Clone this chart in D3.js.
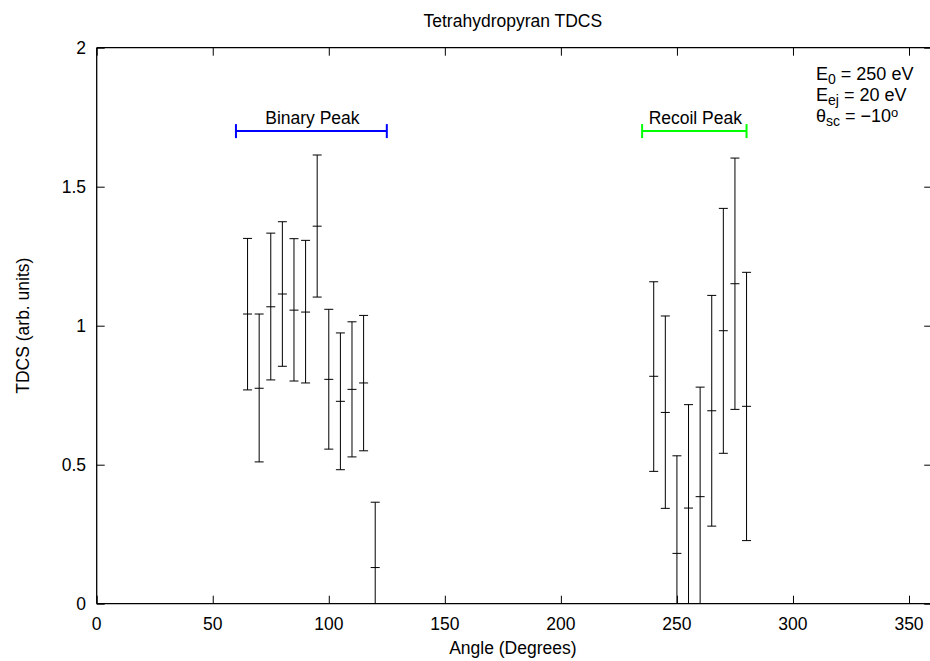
<!DOCTYPE html>
<html>
<head>
<meta charset="utf-8">
<script src="https://cdn.jsdelivr.net/npm/d3@7"></script>
<style>
  html, body { margin: 0; padding: 0; background: #fff; }
  svg { display: block; }
  text { font-family: "Liberation Sans", Arial, Helvetica, sans-serif; fill: #000; }
</style>
</head>
<body>
<svg id="chart" width="930" height="661"></svg>
<script>
// ---- data ----
const binaryAngle = [65, 70, 75, 80, 85, 90, 95, 100, 105, 110, 115, 120];
const binaryValue = [1.042, 0.775, 1.068, 1.114, 1.056, 1.049, 1.358, 0.807, 0.728, 0.771, 0.794, 0.130];
const binaryLow   = [0.769, 0.510, 0.805, 0.854, 0.801, 0.794, 1.103, 0.556, 0.482, 0.528, 0.550, -0.105];
const binaryHigh  = [1.314, 1.042, 1.333, 1.374, 1.313, 1.307, 1.614, 1.059, 0.974, 1.014, 1.037, 0.365];

const recoilAngle = [240, 245, 250, 255, 260, 265, 270, 275, 280];
const recoilValue = [0.818, 0.688, 0.181, 0.344, 0.385, 0.694, 0.982, 1.151, 0.710];
const recoilLow   = [0.476, 0.343, -0.170, -0.028, -0.009, 0.279, 0.541, 0.699, 0.227];
const recoilHigh  = [1.158, 1.035, 0.532, 0.716, 0.779, 1.109, 1.422, 1.603, 1.192];

const peakNames  = ["Binary Peak", "Recoil Peak"];
const peakStart  = [60, 235];
const peakEnd    = [125, 280];
const peakLevel  = [1.7, 1.7];
const peakColors = ["#0000ff", "#00ff00"];

const xTicks = [0, 50, 100, 150, 200, 250, 300, 350];
const yTicks = [0, 0.5, 1, 1.5, 2];
const yTickLabels = ["0", "0.5", "1", "1.5", "2"];

const titleText = "Tetrahydropyran TDCS";
const xLabel = "Angle (Degrees)";
const yLabel = "TDCS (arb. units)";

// ---- layout ----
const svg = d3.select("#chart");
const pLeft = 96.7, pTop = 47.7, pBottom = 603.7;
const x = d3.scaleLinear().domain([0, 360]).range([pLeft, pLeft + 360 * 2.3209]);
const y = d3.scaleLinear().domain([0, 2]).range([pBottom, pTop]);
const pRight = x(360);
const fs = 17.5;

svg.append("defs").append("clipPath").attr("id", "plotclip")
  .append("rect").attr("x", pLeft).attr("y", pTop).attr("width", pRight - pLeft).attr("height", pBottom - pTop);

// title
svg.append("text").attr("x", (pLeft + 929) / 2).attr("y", 27).attr("text-anchor", "middle")
  .style("font-size", fs + "px").text(titleText);

// frame
const tickLen = 8;
const axG = svg.append("g").attr("stroke", "#000").attr("stroke-width", 1.3);
axG.append("line").attr("x1", pLeft).attr("x2", pRight).attr("y1", pBottom).attr("y2", pBottom);
axG.append("line").attr("x1", pLeft).attr("x2", pRight).attr("y1", pTop).attr("y2", pTop);
axG.append("line").attr("x1", pLeft).attr("x2", pLeft).attr("y1", pTop).attr("y2", pBottom);
axG.append("line").attr("x1", pRight).attr("x2", pRight).attr("y1", pTop).attr("y2", pBottom);

// inward, mirrored ticks via d3 axes
const xb = svg.append("g").attr("transform", `translate(0,${pBottom})`)
  .call(d3.axisTop(x).tickValues(xTicks).tickSize(tickLen).tickFormat(""));
const xt = svg.append("g").attr("transform", `translate(0,${pTop})`)
  .call(d3.axisBottom(x).tickValues(xTicks).tickSize(tickLen).tickFormat(""));
const yl = svg.append("g").attr("transform", `translate(${pLeft},0)`)
  .call(d3.axisRight(y).tickValues(yTicks).tickSize(tickLen).tickFormat(""));
const yr = svg.append("g").attr("transform", `translate(${pRight},0)`)
  .call(d3.axisLeft(y).tickValues(yTicks).tickSize(tickLen).tickFormat(""));
[xb, xt, yl, yr].forEach(g => {
  g.select(".domain").remove();
  g.selectAll(".tick line").attr("stroke", "#000").attr("stroke-width", 1);
});

// tick labels
svg.append("g").selectAll("text").data(xTicks).join("text")
  .attr("x", d => x(d)).attr("y", 630).attr("text-anchor", "middle")
  .style("font-size", fs + "px").text(d => d);
svg.append("g").selectAll("text").data(yTicks).join("text")
  .attr("x", 86).attr("y", d => y(d) + 6).attr("text-anchor", "end")
  .style("font-size", fs + "px").text((d, i) => yTickLabels[i]);

// axis labels
svg.append("text").attr("x", (pLeft + 929) / 2).attr("y", 654).attr("text-anchor", "middle")
  .style("font-size", fs + "px").text(xLabel);
svg.append("text").attr("transform", `translate(29,${(pTop + pBottom) / 2}) rotate(-90)`)
  .attr("text-anchor", "middle").style("font-size", fs + "px").text(yLabel);

// error bars
const plot = svg.append("g").attr("clip-path", "url(#plotclip)");
function drawSeries(ang, val, lo, hi) {
  const capW = 4.5;
  const g = plot.append("g").attr("stroke", "#000").attr("stroke-width", 1);
  ang.forEach((a, i) => {
    const cx = x(a);
    g.append("line").attr("x1", cx).attr("x2", cx).attr("y1", y(lo[i])).attr("y2", y(hi[i]));
    g.append("line").attr("x1", cx - capW).attr("x2", cx + capW).attr("y1", y(lo[i])).attr("y2", y(lo[i]));
    g.append("line").attr("x1", cx - capW).attr("x2", cx + capW).attr("y1", y(hi[i])).attr("y2", y(hi[i]));
    g.append("line").attr("x1", cx - capW).attr("x2", cx + capW).attr("y1", y(val[i])).attr("y2", y(val[i]));
  });
}
drawSeries(binaryAngle, binaryValue, binaryLow, binaryHigh);
drawSeries(recoilAngle, recoilValue, recoilLow, recoilHigh);

// peak range markers
peakNames.forEach((name, i) => {
  const g = svg.append("g").attr("stroke", peakColors[i]).attr("stroke-width", 2);
  const yy = y(peakLevel[i]);
  g.append("line").attr("x1", x(peakStart[i])).attr("x2", x(peakEnd[i])).attr("y1", yy).attr("y2", yy);
  g.append("line").attr("x1", x(peakStart[i])).attr("x2", x(peakStart[i])).attr("y1", yy - 7).attr("y2", yy + 7);
  g.append("line").attr("x1", x(peakEnd[i])).attr("x2", x(peakEnd[i])).attr("y1", yy - 7).attr("y2", yy + 7);
  svg.append("text").attr("x", (x(peakStart[i]) + x(peakEnd[i])) / 2 + 1).attr("y", 124)
    .attr("text-anchor", "middle").style("font-size", fs + "px").text(name);
});

// annotation
const afs = 18;
const ann = svg.append("g").style("font-size", afs + "px");
function annLine(yy, main, sub, rest, sup) {
  const t = ann.append("text").attr("x", 816).attr("y", yy);
  t.append("tspan").text(main);
  t.append("tspan").attr("dy", 4).style("font-size", (afs * 0.78) + "px").text(sub);
  t.append("tspan").attr("dy", -4).text(rest);
  if (sup) t.append("tspan").attr("dy", -5).style("font-size", (afs * 0.72) + "px").text(sup);
}
annLine(80, "E", "0", " = 250 eV");
annLine(100.5, "E", "ej", " = 20 eV");
annLine(121.5, "\u03b8", "sc", " = \u221210", "o");
</script>
</body>
</html>
